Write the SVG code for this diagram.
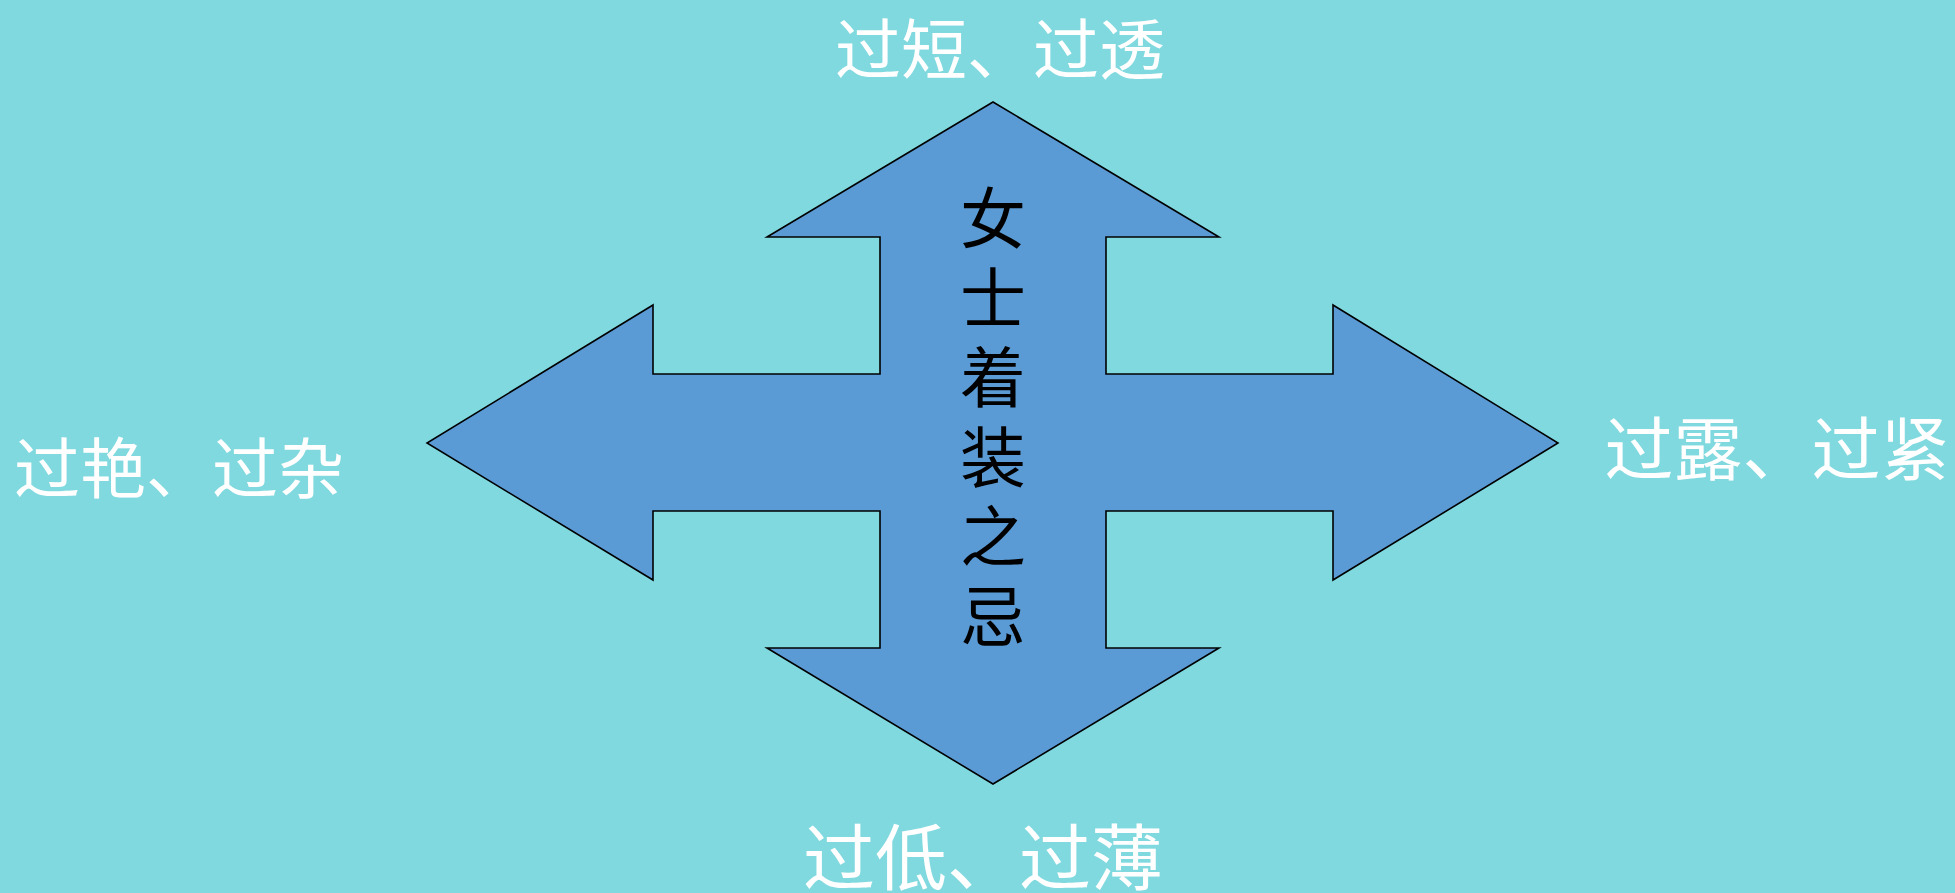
<svg xmlns="http://www.w3.org/2000/svg" width="1955" height="893" viewBox="0 0 1955 893">
<style>
.bg{fill:#80d9df}
.arrow{fill:#5b9bd5;stroke:#000;stroke-width:1.6;stroke-linejoin:miter}
.lbl{font-family:"Noto Sans CJK SC","Noto Sans",sans-serif;fill:#fff;text-anchor:middle}
.ttl{font-family:"Noto Sans CJK SC","Noto Sans",sans-serif;fill:#000;font-size:66px;writing-mode:vertical-rl;text-orientation:upright;letter-spacing:13.5px}
</style>
<rect class="bg" x="0" y="0" width="1955" height="893"/>
<g id="connectors"></g>
<g id="quad-arrow">
<polygon class="arrow" points="993,102 1219,237 1106,237 1106,374 1333,374 1333,305 1558,443 1333,580 1333,511 1106,511 1106,648 1219,648 993,784 767,648 880,648 880,511 653,511 653,580 427,443 653,305 653,374 880,374 880,237 767,237"/>
<text class="ttl" x="993" y="185">女士着装之忌</text>
</g>
<g id="label-top"><text class="lbl" x="1000" y="74" font-size="66">过短、过透</text></g>
<g id="label-left"><text class="lbl" x="179" y="493" font-size="66">过艳、过杂</text></g>
<g id="label-right"><text class="lbl" x="1777" y="475" font-size="69">过露、过紧</text></g>
<g id="label-bottom"><text class="lbl" x="983" y="884" font-size="72">过低、过薄</text></g>
</svg>
